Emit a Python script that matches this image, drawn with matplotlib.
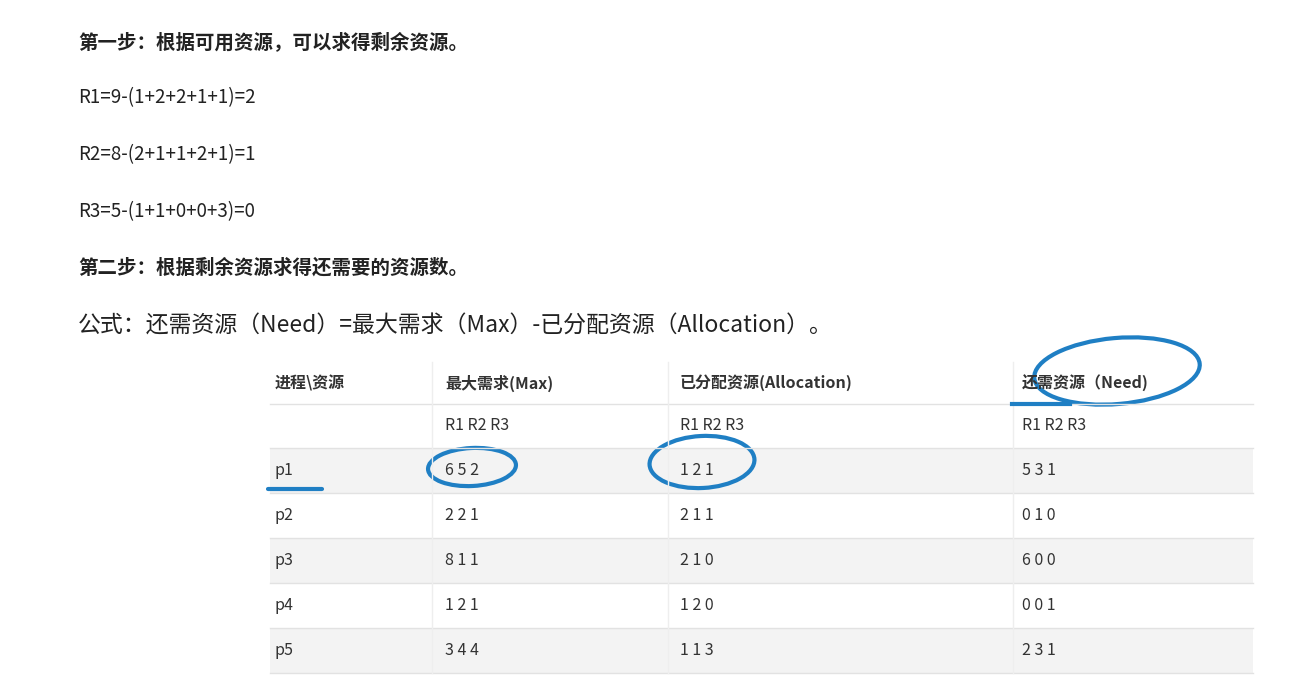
import matplotlib
matplotlib.use("Agg")
import matplotlib.pyplot as plt
from matplotlib.patches import Rectangle, Ellipse

plt.rcParams['font.family'] = ['Noto Sans CJK SC', 'DejaVu Sans']

W, H = 1311, 697
TEXT = "#222222"
BLUE = "#1f7fc4"

# ─── Data ────────────────────────────────────────────────────────────────
headers = ["进程\\资源", "最大需求(Max)", "已分配资源(Allocation)", "还需资源（Need)"]
sub_header = ["", "R1 R2 R3", "R1 R2 R3", "R1 R2 R3"]
processes = ["p1", "p2", "p3", "p4", "p5"]
max_need = ["6 5 2", "2 2 1", "8 1 1", "1 2 1", "3 4 4"]
allocation = ["1 2 1", "2 1 1", "2 1 0", "1 2 0", "1 1 3"]
need = ["5 3 1", "0 1 0", "6 0 0", "0 0 1", "2 3 1"]

step1 = "第一步：根据可用资源，可以求得剩余资源。"
equations = ["R1=9-(1+2+2+1+1)=2", "R2=8-(2+1+1+2+1)=1", "R3=5-(1+1+0+0+3)=0"]
step2 = "第二步：根据剩余资源求得还需要的资源数。"
formula = "公式：还需资源（Need）=最大需求（Max）-已分配资源（Allocation）。"

fig = plt.figure(figsize=(W / 100, H / 100), dpi=100)
ax = fig.add_axes([0, 0, 1, 1])
ax.set_xlim(0, W)
ax.set_ylim(H, 0)
ax.axis("off")

# ─── Paragraphs ──────────────────────────────────────────────────────────
ax.text(78, 42, step1, fontsize=14, fontweight="bold", color=TEXT, va="center")
for i, eq in enumerate(equations):
    ax.text(78, 98 + i * 57, eq, fontsize=13.5, color=TEXT, va="center")
ax.text(78, 268, step2, fontsize=14, fontweight="bold", color=TEXT, va="center")
ax.text(78, 326, formula, fontsize=16.5, color=TEXT, va="center")

# ─── Table ───────────────────────────────────────────────────────────────
tx0, tx1 = 270, 1253
col_x = [275, 445, 680, 1022]
col_sep = [432, 668, 1013]
row_edges = [362, 404, 448, 493, 538, 583, 628, 673]

rows = [headers, sub_header] + [
    [p, m, a, n] for p, m, a, n in zip(processes, max_need, allocation, need)
]
for r, cells in enumerate(rows):
    y0, y1 = row_edges[r], row_edges[r + 1]
    if r >= 2 and r % 2 == 0:
        ax.add_patch(Rectangle((tx0, y0), tx1 - tx0, y1 - y0,
                               facecolor="#f3f3f3", edgecolor="none"))
    for c, txt in enumerate(cells):
        ax.text(col_x[c], (y0 + y1) / 2, txt, fontsize=11.5,
                fontweight="bold" if r == 0 else "normal",
                color="#333333", va="center")
    ax.plot([tx0, tx1], [y1, y1], color="#e2e2e2", lw=1)
for xs in col_sep:
    ax.plot([xs, xs], [row_edges[0], row_edges[-1]], color="#eeeeee", lw=1)

# ─── Hand-drawn annotations ──────────────────────────────────────────────
ax.add_patch(Ellipse((472, 467), 88, 38, angle=-3, fill=False, ec=BLUE, lw=3))
ax.add_patch(Ellipse((702, 462), 105, 52, angle=-3, fill=False, ec=BLUE, lw=3))
ax.add_patch(Ellipse((1117, 371), 166, 66, angle=-5, fill=False, ec=BLUE, lw=3))
ax.plot([1012, 1070], [404, 404], color=BLUE, lw=3)
ax.plot([268, 322], [489, 489], color=BLUE, lw=3, solid_capstyle="round")

fig.savefig("out.png", dpi=100, facecolor="white")
